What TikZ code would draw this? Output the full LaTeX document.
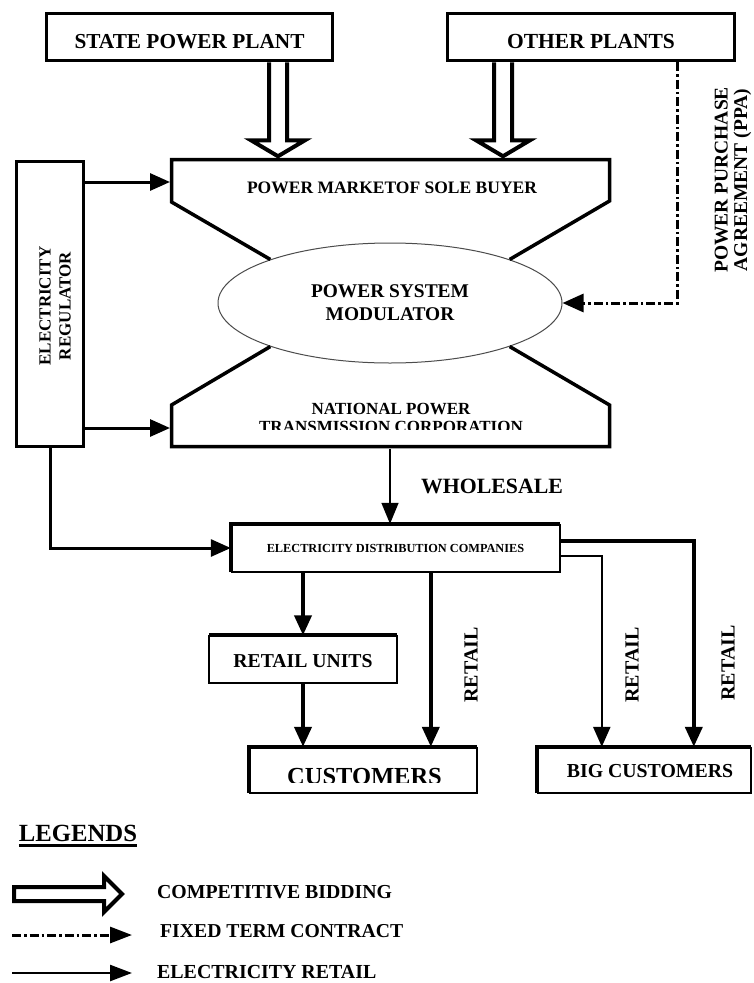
\documentclass[tikz,border=0pt]{standalone}
\usepackage{fontspec}
\setmainfont{Liberation Serif}
\usetikzlibrary{arrows.meta,shapes.geometric,calc}
\newcommand\myfs[2]{\fontsize{#1pt}{#2pt}\selectfont\bfseries}
\begin{document}
\begin{tikzpicture}[x=1pt,y=-1pt,
 box/.style={draw, line width=3.5pt, inner sep=0pt},
 lbl/.style={inner sep=0pt, font=\myfs{20}{20}},
 arr/.style={-{Triangle[length=20pt,width=17pt]}, line width=3pt},
 arrfour/.style={-{Triangle[length=20pt,width=17pt]}, line width=4pt},
 light/.style={line width=1.5pt},
 heavy/.style={line width=4pt},
 bid/.style={draw, fill=white, line width=4pt, line join=miter},
 ddot/.style={line width=3pt, dash pattern=on 9pt off 3pt on 2.5pt off 3pt},
 outline/.style={line width=3.5pt, line join=miter},
]
\path[use as bounding box, fill=white] (0,0) rectangle (753,983);

% top plants
\node[box, minimum width=286pt, minimum height=47pt, text height=22pt, text depth=0pt, font=\myfs{21.3}{21.3}] (state) at (189.5,37) {STATE POWER PLANT};
\node[box, minimum width=287pt, minimum height=47pt, text height=22pt, text depth=0pt, font=\myfs{21.5}{21.5}] (other) at (591,37) {OTHER PLANTS};

% regulator
\node[box, minimum width=67pt, minimum height=285pt] (reg) at (50,304) {};
\node[rotate=90, align=center, inner sep=0pt, font=\myfs{17}{20}] (regt) at (55,306) {ELECTRICITY\\REGULATOR};

% modulator ellipse
\node[ellipse, draw=black!70, line width=1pt, minimum width=344pt, minimum height=120pt, inner sep=0pt, align=center, font=\myfs{19.4}{23}] (mod) at (390,303) {POWER SYSTEM\\MODULATOR};

% power market shape
\coordinate (pmA) at (171.5,159.5);
\coordinate (pmB) at (609.5,159.5);
\coordinate (pmC) at (609.5,201);
\coordinate (pmD) at (171.5,202);
\draw[outline] (mod.160) -- (pmD) -- (pmA) -- (pmB) -- (pmC) -- (mod.20);
\node[lbl, font=\myfs{17.5}{17.5}] (pmt) at (392,188) {POWER MARKETOF SOLE BUYER};

% national transmission shape
\coordinate (npA) at (171.5,405);
\coordinate (npB) at (171.5,446.5);
\coordinate (npC) at (609.5,446.5);
\coordinate (npD) at (609.5,405);
\draw[outline] (mod.200) -- (npA) -- (npB) -- (npC) -- (npD) -- (mod.340);
\begin{scope}
\clip (150,390) rectangle (620,429.5);
\node[inner sep=0pt, align=center, font=\myfs{17}{18}] (nptt) at (391,417.5) {NATIONAL POWER\\TRANSMISSION CORPORATION};
\end{scope}

% competitive bidding arrows
\coordinate (sa) at ([xshift=88.5pt]state.south);
\draw[bid] ($(sa)+(-9,0)$) -- ($(sa)+(-9,78)$) -- ($(sa)+(-27,78)$) -- ($(sa)+(0,94)$) -- ($(sa)+(27,78)$) -- ($(sa)+(9,78)$) -- ($(sa)+(9,0)$);
\coordinate (oa) at ([xshift=-88pt]other.south);
\draw[bid] ($(oa)+(-9,0)$) -- ($(oa)+(-9,78)$) -- ($(oa)+(-27,78)$) -- ($(oa)+(0,94)$) -- ($(oa)+(27,78)$) -- ($(oa)+(9,78)$) -- ($(oa)+(9,0)$);

% regulator arrows
\coordinate (pmin) at (170,182);
\coordinate (npin) at (170,428);
\draw[arr] (reg.east |- pmin) -- (pmin);
\draw[arr] (reg.east |- npin) -- (npin);

% PPA fixed term contract
\draw[ddot, -{Triangle[length=21pt,width=18pt]}] ([xshift=86pt]other.south) |- (mod.east);
\node[rotate=90, align=center, inner sep=0pt, font=\myfs{19.5}{19.5}] (ppa) at (733,180) {POWER PURCHASE\\AGREEMENT (PPA)};

% distribution companies
\node[inner sep=0pt, minimum width=329pt, minimum height=48pt, font=\myfs{12.3}{12.3}] (dist) at (395.5,548) {ELECTRICITY DISTRIBUTION COMPANIES};
\draw[heavy] (dist.south west) -- (dist.north west) -- (dist.north east);
\draw[light] (dist.north east) -- (dist.south east) -- (dist.south west);

% wholesale
\coordinate (ws) at (390,448.5);
\draw[-{Triangle[length=21pt,width=17pt]}, line width=1.5pt] (ws) -- (ws |- dist.north);
\node[lbl, font=\myfs{21.8}{21.8}] (wst) at (492,486) {WHOLESALE};

% regulator to distribution
\draw[arr] (reg.south) |- (dist.west);

% retail units
\node[inner sep=0pt, minimum width=187pt, minimum height=47pt, text height=17pt, text depth=0pt, font=\myfs{19.7}{19.7}] (ru) at (303,659) {RETAIL UNITS};
\draw[heavy] (ru.north west) -- (ru.north east);
\draw[line width=2pt] (ru.north east) -- (ru.south east) -- (ru.south west) -- (ru.north west);

% customers
\node[inner sep=0pt, minimum width=228pt, minimum height=46pt] (cust) at (363,770) {};
\draw[heavy] (cust.south west) -- (cust.north west) -- (cust.north east);
\draw[light] (cust.north east) -- (cust.south east) -- (cust.south west);
\begin{scope}
\clip (250,750) rectangle (475,782);
\node[inner sep=0pt, font=\myfs{24.5}{24.5}] (custt) at (364.5,776.5) {CUSTOMERS};
\end{scope}

% big customers
\node[inner sep=0pt, minimum width=214pt, minimum height=46pt] (big) at (644,770) {};
\draw[heavy] (big.south west) -- (big.north west) -- (big.north east);
\draw[light] (big.north east) -- (big.south east) -- (big.south west);
\node[inner sep=0pt, font=\myfs{19.8}{19.8}] (bigt) at (650,771) {BIG CUSTOMERS};

% retail connectors
\draw[arrfour] (dist.south -| ru.north) -- (ru.north);
\draw[arrfour] (ru.south) -- (ru.south |- cust.north);
\draw[arrfour] ([xshift=200pt]dist.south west) -- ([xshift=200pt]dist.south west |- cust.north);
\draw[arrfour] ([yshift=-17pt]dist.north east) -| ([xshift=157pt]big.north west);
\draw[arr, line width=2.5pt] ([yshift=-32pt]dist.north east) -| ([xshift=65pt]big.north west);

\node[lbl, rotate=90] (rt1) at (471,665) {RETAIL};
\node[lbl, rotate=90] (rt2) at (632,665) {RETAIL};
\node[lbl, rotate=90] (rt3) at (728,663) {RETAIL};

% legends
\node[inner sep=0pt, font=\myfs{24.7}{24.7}] (legt) at (78,833.5) {LEGENDS};
\draw[line width=2.2pt] ([yshift=-3.5pt]legt.south west) -- ([yshift=-3.5pt]legt.south east);

\draw[bid] (14,887) -- (104,887) -- (104,876) -- (122,894) -- (104,912) -- (104,901) -- (14,901) -- cycle;
\node[inner sep=0pt, anchor=west, font=\myfs{19.8}{19.8}] (lg1) at (157,892) {COMPETITIVE BIDDING};

\coordinate (l2a) at (12,935);
\coordinate (l2b) at (132,935);
\draw[ddot, -{Triangle[length=22pt,width=16pt]}] (l2a) -- (l2b);
\node[inner sep=0pt, anchor=west, font=\myfs{19.7}{19.7}] (lg2) at (160,931) {FIXED TERM CONTRACT};

\coordinate (l3a) at (12,973);
\coordinate (l3b) at (132,973);
\draw[-{Triangle[length=22pt,width=16pt]}, line width=2.5pt] (l3a) -- (l3b);
\node[inner sep=0pt, anchor=west, font=\myfs{19.9}{19.9}] (lg3) at (157,972) {ELECTRICITY RETAIL};
\end{tikzpicture}
\end{document}
